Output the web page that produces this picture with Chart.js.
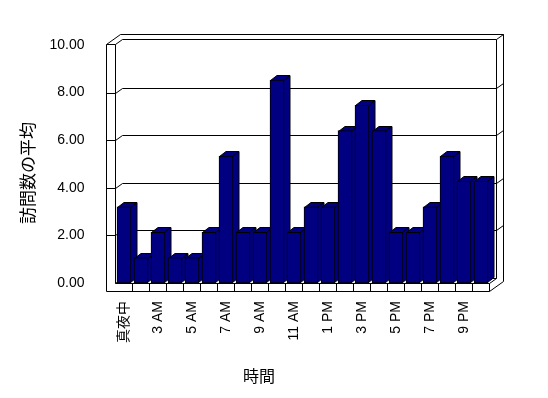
<!DOCTYPE html>
<html>
<head>
<meta charset="utf-8">
<script src="https://cdn.jsdelivr.net/npm/chart.js@4"></script>
<style>
  body { margin: 0; background: #fff; }
  canvas { display: block; }
</style>
</head>
<body>
<canvas id="visitChart" width="548" height="398"></canvas>
<script>
// hours that had visits (1-2 AM and 11 PM not in the data)
var hours = ["真夜中", "1 AM", "3 AM", "4 AM", "5 AM", "6 AM", "7 AM", "8 AM", "9 AM", "10 AM", "11 AM",
  "正午", "1 PM", "2 PM", "3 PM", "4 PM", "5 PM", "6 PM", "7 PM", "8 PM", "9 PM", "10 PM"];
var avgVisits = [3.20, 1.07, 2.13, 1.07, 1.07, 2.13, 5.33, 2.13, 2.13, 8.53, 2.13,
  3.20, 3.20, 6.40, 7.47, 6.40, 2.13, 2.13, 3.20, 5.33, 4.27, 4.27];
var yTicks = [0, 2, 4, 6, 8, 10];
var yTitle = "訪問数の平均";
var xTitle = "時間";

var navy = "#000080";
var latin = "'Liberation Sans', 'Noto Sans CJK JP', sans-serif";
var cjk = "'Noto Sans CJK JP', 'Liberation Sans', sans-serif";

// 3d depth for walls and bars
var dx = 7, dy = -5;
var wallW = 9, floorH = 8;
var bdx = 6.5, bdy = -5;

function sx(x) { return Math.floor(x) + 0.5; }
function sy(y) { return Math.round(y) - 0.5; }

function line(ctx, x1, y1, x2, y2) {
  ctx.beginPath();
  ctx.moveTo(sx(x1), sy(y1));
  ctx.lineTo(sx(x2), sy(y2));
  ctx.stroke();
}

var boxPlugin = {
  id: "box3d",
  beforeDatasetsDraw: function (chart) {
    var ctx = chart.ctx;
    var a = chart.chartArea;
    var ys = chart.scales.y, xs = chart.scales.x;
    var L = a.left, R = a.right, T = a.top, B = a.bottom + 1;
    ctx.save();
    ctx.strokeStyle = "#000";
    ctx.lineWidth = 1;

    // back wall
    line(ctx, L + dx, T + dy, R + dx, T + dy);
    line(ctx, R + dx, T + dy, R + dx, B + dy);
    line(ctx, L + dx, B + dy, R + dx, B + dy);
    line(ctx, L - wallW + 2 * dx, T + 2 * dy, R + 2 * dx, T + 2 * dy);
    line(ctx, R + 2 * dx, T + 2 * dy, R + 2 * dx, B + floorH + 2 * dy);
    line(ctx, R + dx, T + dy, R + 2 * dx, T + 2 * dy);

    // left wall
    line(ctx, L - wallW, T, L - wallW, B + floorH);
    line(ctx, L, T, L, B);
    line(ctx, L - wallW, T, L, T);
    line(ctx, L - wallW, T, L - wallW + 2 * dx, T + 2 * dy);
    line(ctx, L, T, L + dx, T + dy);
    line(ctx, L, B, L + dx, B + dy);

    // floor
    line(ctx, L, B, R, B);
    line(ctx, L - wallW, B + floorH, R, B + floorH);
    line(ctx, R, B, R, B + floorH);
    line(ctx, R, B, R + dx, B + dy);
    line(ctx, R, B + floorH, R + 2 * dx, B + floorH + 2 * dy);
    for (var k = 1; k < hours.length; k++) {
      var bx = (xs.getPixelForValue(k - 1) + xs.getPixelForValue(k)) / 2;
      line(ctx, bx, B, bx, B + floorH);
    }

    // gridlines across wall
    yTicks.forEach(function (v) {
      if (v === 0 || v === 10) return;
      var y = ys.getPixelForValue(v) + 1;
      line(ctx, L - wallW, y, L, y);
      line(ctx, L, y, L + dx, y + dy);
      line(ctx, L + dx, y + dy, R + dx, y + dy);
      line(ctx, R + dx, y + dy, R + 2 * dx, y + 2 * dy);
    });

    // tops and sides of the bars
    var bars = chart.getDatasetMeta(0).data;
    ctx.fillStyle = navy;
    bars.forEach(function (b) {
      var l = Math.round(b.x - b.width / 2) + 0.5;
      var r = Math.round(b.x + b.width / 2) - 0.5;
      var t = Math.round(b.y) + 0.5;
      var base = Math.round(b.base) - 0.5;
      ctx.beginPath();
      ctx.moveTo(l, t);
      ctx.lineTo(r, t);
      ctx.lineTo(r + bdx, t + bdy);
      ctx.lineTo(l + bdx, t + bdy);
      ctx.closePath();
      ctx.fill();
      ctx.stroke();
      ctx.beginPath();
      ctx.moveTo(r, t);
      ctx.lineTo(r + bdx, t + bdy);
      ctx.lineTo(r + bdx, base + bdy);
      ctx.lineTo(r, base);
      ctx.closePath();
      ctx.fill();
      ctx.stroke();
    });
    ctx.restore();
  },
  afterDraw: function (chart) {
    var ctx = chart.ctx;
    ctx.save();
    ctx.fillStyle = "#000";
    ctx.textAlign = "center";
    ctx.textBaseline = "middle";
    ctx.font = "16px " + cjk;
    ctx.fillText(xTitle, 259, 376);
    ctx.translate(28, 173);
    ctx.rotate(-Math.PI / 2);
    ctx.font = "17px " + cjk;
    ctx.fillText(yTitle, 0, 0);
    ctx.restore();
  }
};

new Chart(document.getElementById("visitChart"), {
  type: "bar",
  data: {
    labels: hours,
    datasets: [{
      data: avgVisits,
      backgroundColor: navy,
      borderColor: "#000",
      borderWidth: 1,
      borderSkipped: false,
      barThickness: 14
    }]
  },
  options: {
    responsive: false,
    devicePixelRatio: 1,
    animation: false,
    layout: { padding: { top: 45, right: 58.5, bottom: 0, left: 0 } },
    plugins: { legend: { display: false }, tooltip: { enabled: false } },
    scales: {
      x: {
        grid: { display: false },
        border: { display: false },
        ticks: {
          autoSkip: false,
          minRotation: 90,
          maxRotation: 90,
          padding: 10,
          color: "#000",
          font: { family: latin, size: 14 },
          callback: function (v, i) { return i % 2 === 0 ? hours[i] : ""; }
        },
        afterFit: function (s) { s.height = 115; }
      },
      y: {
        min: 0,
        max: 10,
        grid: { display: false },
        border: { display: false },
        ticks: {
          stepSize: 2,
          padding: 23,
          color: "#000",
          font: { family: latin, size: 14 },
          callback: function (v) { return v.toFixed(2); }
        },
        afterFit: function (s) { s.width = 115.5; }
      }
    }
  },
  plugins: [boxPlugin]
});
</script>
</body>
</html>
